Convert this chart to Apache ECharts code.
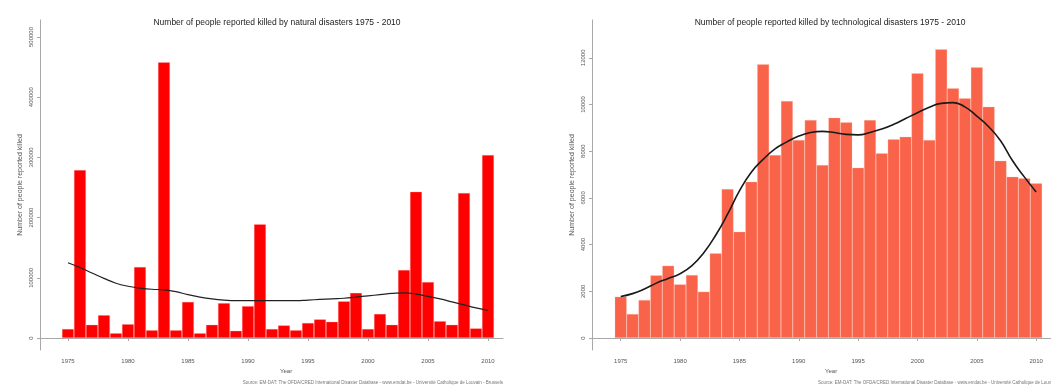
<!DOCTYPE html>
<html>
<head>
<meta charset="utf-8">
<title>Disaster deaths 1975 - 2010</title>
<script src="https://cdn.jsdelivr.net/npm/echarts@6/dist/echarts.min.js"></script>
<style>
  html, body { margin: 0; padding: 0; background: #fff; }
  #chart { width: 1051px; height: 387px; }
</style>
</head>
<body>
<div id="chart"></div>
<script>
// Years covered by both panels
const years = [];
for (let y = 1975; y <= 2010; y++) years.push(y);

// Deaths per year, natural disasters
const naturalKilled = [
  15000, 279000, 22000, 38000, 8000, 23000, 118000, 13000, 458000, 13000,
  60000, 8000, 22000, 58000, 12000, 53000, 189000, 15000, 21000, 13000,
  25000, 31000, 27000, 61000, 75000, 15000, 40000, 22000, 113000, 243000,
  93000, 28000, 22000, 241000, 16000, 304000
];
// Smoothed trend, natural disasters
const naturalTrend = [
  125000, 117000, 108000, 99000, 91000, 86000, 83000, 81000, 80000, 77000,
  72000, 68000, 65000, 63000, 62000, 62000, 62000, 62000, 62000, 62000,
  63000, 64000, 65000, 66000, 68000, 70000, 72000, 74000, 75000, 73000,
  69000, 65000, 60000, 55000, 50000, 46000
];

// Deaths per year, technological disasters
const techKilled = [
  1769, 1028, 1627, 2685, 3097, 2298, 2698, 1985, 3626, 6381,
  4553, 6696, 11722, 7837, 10150, 8480, 9336, 7409, 9436, 9236,
  7295, 9336, 7909, 8508, 8622, 11336, 8480, 12364, 10694, 10266,
  11593, 9907, 7594, 6908, 6837, 6625
];
// Smoothed trend, technological disasters
const techTrend = [
  1780, 1900, 2100, 2350, 2550, 2750, 3100, 3650, 4400, 5300,
  6300, 7100, 7650, 8100, 8400, 8650, 8800, 8850, 8800, 8720,
  8700, 8800, 8950, 9150, 9400, 9650, 9880, 10050, 10080, 9900,
  9500, 9050, 8450, 7600, 6900, 6250
];

// Axis ticks
const yearTicks = [1975, 1980, 1985, 1990, 1995, 2000, 2005, 2010];
const naturalTicks = [0, 100000, 200000, 300000, 400000, 500000];
const techTicks = [0, 2000, 4000, 6000, 8000, 10000, 12000];

const titles = [
  'Number of people reported killed by natural disasters 1975 - 2010',
  'Number of people reported killed by technological disasters 1975 - 2010'
];
const yName = 'Number of people reported killed';
const xName = 'Year';
const sourceNote = 'Source: EM-DAT: The OFDA/CRED International Disaster Database - www.emdat.be - Universit\u00e9 Catholique de Louvain - Brussels';

const FONT = 'Liberation Sans, Arial, sans-serif';
const AXIS_COLOR = '#a8a8a8';
const LABEL_COLOR = '#555';

const pairs = (xs, ys) => xs.map((x, i) => [x, ys[i]]);
const plain = v => String(v);

function xAxisFor(gridIndex, min, max) {
  return {
    type: 'value', gridIndex, min, max,
    axisLine: { show: true, lineStyle: { color: AXIS_COLOR, width: 1 } },
    axisTick: { show: true, customValues: yearTicks, length: 3, lineStyle: { color: AXIS_COLOR } },
    axisLabel: { show: true, customValues: yearTicks, formatter: plain, fontSize: 6, color: LABEL_COLOR, fontFamily: FONT, margin: 8 },
    splitLine: { show: false }
  };
}

function yAxisFor(gridIndex, min, max, ticks) {
  return {
    type: 'value', gridIndex, min, max,
    name: yName, nameLocation: 'middle', nameRotate: 90, nameGap: 16,
    nameTextStyle: { fontSize: 7, color: LABEL_COLOR, fontFamily: FONT },
    axisLine: { show: true, onZero: false, lineStyle: { color: AXIS_COLOR, width: 1 } },
    axisTick: { show: true, customValues: ticks, length: 3, lineStyle: { color: AXIS_COLOR } },
    axisLabel: { show: true, customValues: ticks, formatter: plain, rotate: 90, fontSize: 6, color: LABEL_COLOR, fontFamily: FONT, margin: 6 },
    splitLine: { show: false }
  };
}

const chart = echarts.init(document.getElementById('chart'), null, { renderer: 'canvas' });

chart.setOption({
  backgroundColor: '#ffffff',
  animation: false,
  title: [
    { text: titles[0], left: 272, top: 13, textAlign: 'center',
      textStyle: { fontSize: 8.5, fontWeight: 'normal', color: '#222', fontFamily: FONT } },
    { text: titles[1], left: 825, top: 13, textAlign: 'center',
      textStyle: { fontSize: 8.5, fontWeight: 'normal', color: '#222', fontFamily: FONT } }
  ],
  grid: [
    { left: 40, width: 463, top: 20, height: 330 },
    { left: 592, width: 464, top: 20, height: 330 }
  ],
  xAxis: [
    xAxisFor(0, 1972.67, 2011.25),
    xAxisFor(1, 1972.58, 2011.25)
  ],
  yAxis: [
    yAxisFor(0, -19934, 528239, naturalTicks),
    yAxisFor(1, -514, 13619, techTicks)
  ],
  series: [
    {
      type: 'bar', xAxisIndex: 0, yAxisIndex: 0,
      data: pairs(years, naturalKilled),
      barWidth: 12,
      itemStyle: { color: '#ff0000', borderColor: 'rgba(255,180,180,0.6)', borderWidth: 0.5 }
    },
    {
      type: 'line', xAxisIndex: 0, yAxisIndex: 0,
      data: pairs(years, naturalTrend),
      smooth: true, showSymbol: false,
      lineStyle: { color: '#222', width: 1.2 }
    },
    {
      type: 'bar', xAxisIndex: 1, yAxisIndex: 1,
      data: pairs(years, techKilled),
      barWidth: 12,
      itemStyle: { color: '#f9634a', borderColor: 'rgba(255,200,185,0.6)', borderWidth: 0.5 }
    },
    {
      type: 'line', xAxisIndex: 1, yAxisIndex: 1,
      data: pairs(years, techTrend),
      smooth: true, showSymbol: false,
      lineStyle: { color: '#1a1a1a', width: 1.6 }
    }
  ],
  graphic: [
    { type: 'text', left: 280, top: 368, style: { text: xName, fill: LABEL_COLOR, font: '6px ' + FONT, textAlign: 'center' } },
    { type: 'text', left: 825, top: 368, style: { text: xName, fill: LABEL_COLOR, font: '6px ' + FONT, textAlign: 'center' } },
    { type: 'text', right: 548, top: 380, style: { text: sourceNote, fill: '#777', font: '4.5px ' + FONT } },
    { type: 'text', left: 818, top: 380, style: { text: sourceNote, fill: '#777', font: '4.5px ' + FONT } }
  ]
});
</script>
</body>
</html>
